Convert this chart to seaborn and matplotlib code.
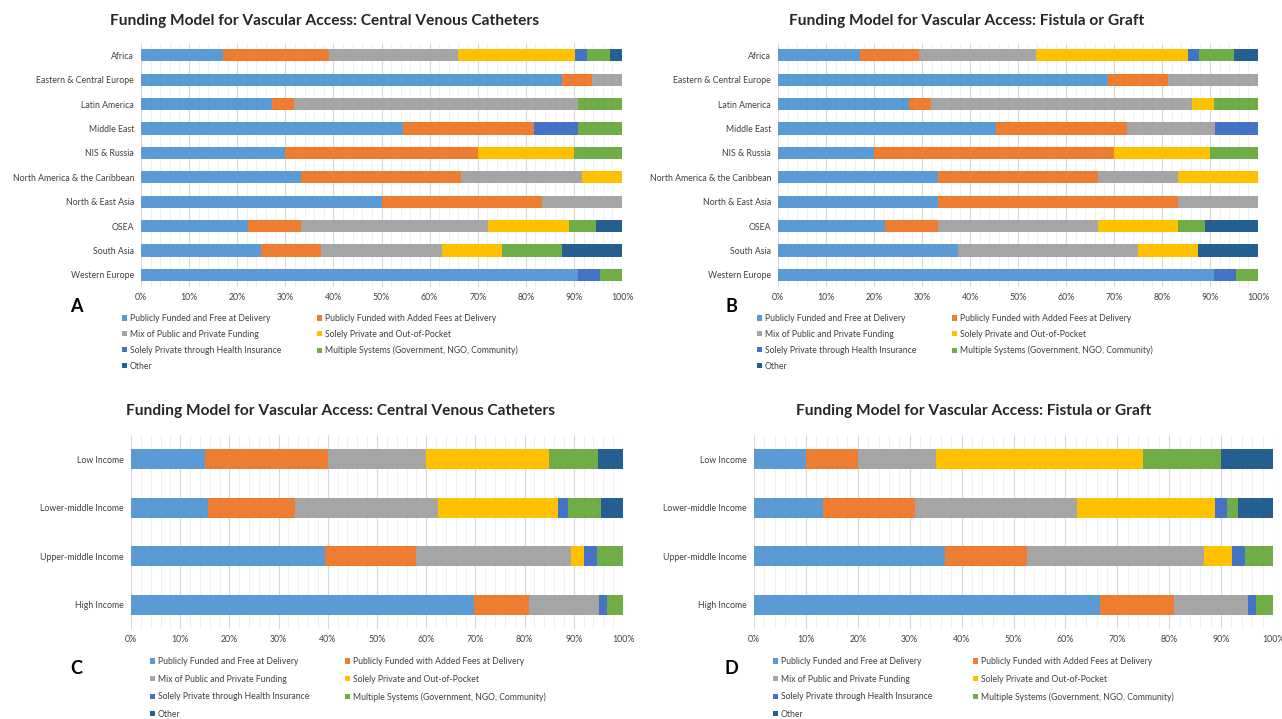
import numpy as np
import pandas as pd
import matplotlib
matplotlib.use("Agg")
import matplotlib.pyplot as plt
from matplotlib.patches import Patch
from matplotlib.ticker import MultipleLocator, FuncFormatter
import seaborn as sns

# ---------------- data ----------------
series = ["Publicly Funded and Free at Delivery",
          "Publicly Funded with Added Fees at Delivery",
          "Mix of Public and Private Funding",
          "Solely Private and Out-of-Pocket",
          "Solely Private through Health Insurance",
          "Multiple Systems (Government, NGO, Community)",
          "Other"]
colors = ["#5B9BD5", "#ED7D31", "#A5A5A5", "#FFC000", "#4472C4", "#70AD47", "#255E91"]

regions = ["Africa", "Eastern & Central Europe", "Latin America", "Middle East",
           "NIS & Russia", "North America & the Caribbean", "North & East Asia",
           "OSEA", "South Asia", "Western Europe"]
incomes = ["Low Income", "Lower-middle Income", "Upper-middle Income", "High Income"]

# Panel A: CVC by region (%)
a_free  = [17.1, 87.5, 27.3, 54.5, 30.0, 33.3, 50.0, 22.2, 25.0, 90.9]
a_fees  = [22.0, 6.25, 4.5, 27.3, 40.0, 33.3, 33.3, 11.1, 12.5, 0.0]
a_mix   = [26.8, 6.25, 59.1, 0.0, 0.0, 25.0, 16.7, 38.9, 25.0, 0.0]
a_oop   = [24.4, 0.0, 0.0, 0.0, 20.0, 8.3, 0.0, 16.7, 12.5, 0.0]
a_ins   = [2.4, 0.0, 0.0, 9.1, 0.0, 0.0, 0.0, 0.0, 0.0, 4.5]
a_multi = [4.9, 0.0, 9.1, 9.1, 10.0, 0.0, 0.0, 5.6, 12.5, 4.6]
a_other = [2.4, 0.0, 0.0, 0.0, 0.0, 0.0, 0.0, 5.5, 12.5, 0.0]

# Panel B: Fistula/Graft by region (%)
b_free  = [17.1, 68.75, 27.3, 45.5, 20.0, 33.3, 33.3, 22.2, 37.5, 90.9]
b_fees  = [12.2, 12.5, 4.5, 27.3, 50.0, 33.3, 50.0, 11.1, 0.0, 0.0]
b_mix   = [24.4, 18.75, 54.5, 18.2, 0.0, 16.7, 16.7, 33.3, 37.5, 0.0]
b_oop   = [31.7, 0.0, 4.5, 0.0, 20.0, 16.7, 0.0, 16.7, 12.5, 0.0]
b_ins   = [2.4, 0.0, 0.0, 9.0, 0.0, 0.0, 0.0, 0.0, 0.0, 4.5]
b_multi = [7.3, 0.0, 9.2, 0.0, 10.0, 0.0, 0.0, 5.6, 0.0, 4.6]
b_other = [4.9, 0.0, 0.0, 0.0, 0.0, 0.0, 0.0, 11.1, 12.5, 0.0]

# Panel C: CVC by income (%)
c_free  = [15.0, 15.6, 39.5, 69.8]
c_fees  = [25.0, 17.8, 18.4, 11.1]
c_mix   = [20.0, 28.9, 31.6, 14.3]
c_oop   = [25.0, 24.4, 2.6, 0.0]
c_ins   = [0.0, 2.2, 2.6, 1.6]
c_multi = [10.0, 6.7, 5.3, 3.2]
c_other = [5.0, 4.4, 0.0, 0.0]

# Panel D: Fistula/Graft by income (%)
d_free  = [10.0, 13.3, 36.8, 66.7]
d_fees  = [10.0, 17.8, 15.8, 14.3]
d_mix   = [15.0, 31.1, 34.2, 14.2]
d_oop   = [40.0, 26.7, 5.3, 0.0]
d_ins   = [0.0, 2.2, 2.6, 1.6]
d_multi = [15.0, 2.2, 5.3, 3.2]
d_other = [10.0, 6.7, 0.0, 0.0]

title_cvc = "Funding Model for Vascular Access: Central Venous Catheters"
title_fg = "Funding Model for Vascular Access: Fistula or Graft"

# ---------------- style ----------------
sns.set_theme(style="white")
plt.rcParams["font.family"] = ["Lato", "DejaVu Sans"]
TXT = "#404040"

W, H = 1282, 719
fig = plt.figure(figsize=(W / 100, H / 100), dpi=100)


def px_axes(x0, x1, y0, y1):
    return fig.add_axes([x0 / W, 1 - y1 / H, (x1 - x0) / W, (y1 - y0) / H])


def draw_panel(ax, cats, vals, bar_w, fs):
    df = pd.DataFrame({s: v for s, v in zip(series, vals)})
    df["cat"] = cats
    cum = df[series].cumsum(axis=1)
    for i in range(len(series) - 1, -1, -1):
        sns.barplot(x=np.minimum(cum[series[i]].values, 100.0), y=cats, order=cats,
                    orient="h", color=colors[i], saturation=1, width=bar_w,
                    linewidth=0, ax=ax)
    ax.set_xlim(0, 100)
    ax.xaxis.set_major_locator(MultipleLocator(10))
    ax.xaxis.set_minor_locator(MultipleLocator(2))
    ax.xaxis.set_major_formatter(FuncFormatter(lambda v, p: f"{int(round(v))}%"))
    ax.set_axisbelow(True)
    ax.grid(axis="x", which="major", color="#D9D9D9", lw=0.8)
    ax.grid(axis="x", which="minor", color="#ECECEC", lw=0.6)
    ax.grid(axis="y", visible=False)
    for s in ax.spines.values():
        s.set_visible(False)
    ax.tick_params(axis="both", which="both", length=0, colors=TXT, labelsize=fs)
    ax.tick_params(axis="y", pad=5)
    ax.tick_params(axis="x", pad=4)
    ax.set_xlabel("")
    ax.set_ylabel("")


def add_legend(x_col1, x_col2, y_top, spacing):
    handles = [Patch(facecolor=c, edgecolor="none") for c in colors]
    kw = dict(frameon=False, fontsize=6.2, handlelength=0.55, handleheight=0.55,
              handletextpad=0.35, labelspacing=spacing, borderpad=0, borderaxespad=0,
              labelcolor=TXT, loc="upper left")
    idx1 = [0, 2, 4, 6]
    idx2 = [1, 3, 5]
    fig.legend([handles[i] for i in idx1], [series[i] for i in idx1],
               bbox_to_anchor=(x_col1 / W, 1 - y_top / H), **kw)
    fig.legend([handles[i] for i in idx2], [series[i] for i in idx2],
               bbox_to_anchor=(x_col2 / W, 1 - y_top / H), **kw)


axA = px_axes(141, 622, 43, 287)
draw_panel(axA, regions, [a_free, a_fees, a_mix, a_oop, a_ins, a_multi, a_other], 0.5, 6.3)
axB = px_axes(778, 1258, 43, 287)
draw_panel(axB, regions, [b_free, b_fees, b_mix, b_oop, b_ins, b_multi, b_other], 0.5, 6.3)
axC = px_axes(131, 623, 435, 629)
draw_panel(axC, incomes, [c_free, c_fees, c_mix, c_oop, c_ins, c_multi, c_other], 0.42, 6.3)
axD = px_axes(754, 1273, 435, 629)
draw_panel(axD, incomes, [d_free, d_fees, d_mix, d_oop, d_ins, d_multi, d_other], 0.42, 6.3)

# titles
tkw = dict(fontsize=11.2, fontweight="bold", color="#262626", ha="center", va="center")
fig.text(324 / W, 1 - 21 / H, title_cvc, **tkw)
fig.text(967 / W, 1 - 21 / H, title_fg, **tkw)
fig.text(340 / W, 1 - 411 / H, title_cvc, **tkw)
fig.text(974 / W, 1 - 411 / H, title_fg, **tkw)

# panel letters
lkw = dict(fontsize=13, fontweight="bold", color="black", ha="center", va="center")
fig.text(76 / W, 1 - 307 / H, "A", **lkw)
fig.text(731 / W, 1 - 307 / H, "B", **lkw)
fig.text(76 / W, 1 - 668 / H, "C", **lkw)
fig.text(731 / W, 1 - 668 / H, "D", **lkw)

# legends
add_legend(122, 317, 314, 0.8)
add_legend(757, 952, 314, 0.8)
add_legend(150, 345, 657, 1.0)
add_legend(773, 973, 657, 1.0)

fig.savefig("out.png", dpi=100, facecolor="white")
